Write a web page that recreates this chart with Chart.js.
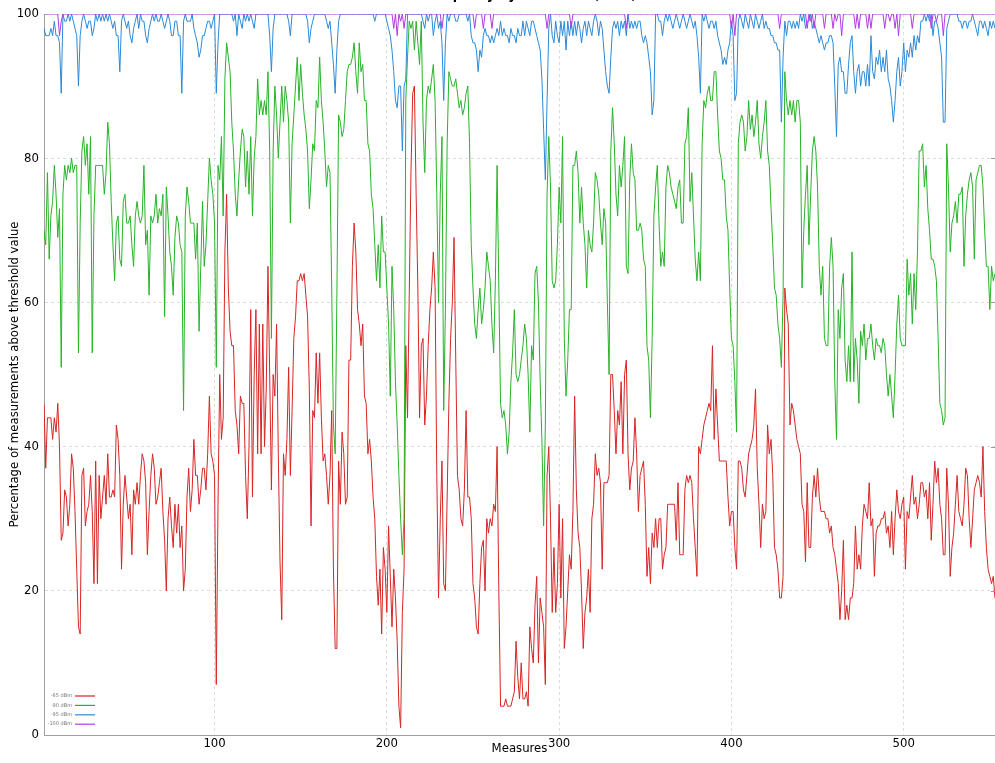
<!DOCTYPE html>
<html>
<head>
<meta charset="utf-8">
<script src="https://cdn.jsdelivr.net/npm/chart.js@4.4.1/dist/chart.umd.min.js"></script>
<style>
  html, body { margin: 0; padding: 0; background: #fff; }
  #wrap { position: relative; width: 995px; height: 763px; overflow: hidden; }
  #box { position: absolute; left: 0; top: -16px; width: 995px; height: 779px; }
</style>
</head>
<body>
<div id="wrap"><div id="box"><canvas id="chart"></canvas></div></div>
<script>
// percentage of measurements above each threshold, one value per measure
const red65 = [
  46,37,44,44,44,41,44,42,46,40, 27,28,34,33,29,32,39,37,31,23, 15,14,36,37,29,31,32,36,31,21,
  38,21,36,30,33,36,32,39,33,33, 34,33,43,41,36,23,32,36,33,30, 32,25,34,32,35,32,36,39,38,35,
  25,31,36,39,37,32,33,35,37,31, 27,20,30,33,29,26,32,28,32,26, 29,20,23,33,37,31,34,41,36,36,
  32,34,37,37,34,39,47,39,38,36, 7,32,50,41,44,67,75,62,56,54,
  54,45,43,39,47,46,46,36,30,40, 59,33,50,59,39,57,39,57,40,48, 65,50,34,50,47,57,39,24,16,39,
  36,41,51,36,45,55,58,63,63,64, 63,64,61,58,48,29,45,44,53,46, 53,44,38,39,36,32,36,45,23,12,
  12,38,32,42,39,32,33,52,52,65, 71,67,59,57,54,57,47,46,39,41, 38,33,30,22,18,23,14,26,23,17,
  29,22,15,23,19,13,4,1,17,23, 54,44,61,78,89,90,75,62,44,54,
  55,43,47,54,59,62,67,62,36,19, 30,38,21,20,33,46,55,60,69,52, 36,34,30,29,34,45,33,33,30,21,
  19,15,14,21,26,27,20,30,28,30, 29,32,31,40,20,4,4,4,5,4, 4,4,5,6,13,8,5,10,5,5,
  6,4,15,12,10,18,22,10,19,17, 15,7,36,40,30,17,26,17,21,32, 19,30,12,15,20,25,23,31,47,34,
  28,26,20,12,17,19,23,17,30,32, 39,36,37,35,23,35,35,35,36,50,
  50,45,39,45,43,49,39,50,52,39, 34,37,38,44,39,31,36,37,38,32, 22,26,21,28,26,30,26,30,30,23,
  25,26,32,32,32,32,32,27,35,25, 25,25,34,36,35,36,35,30,26,22, 40,39,41,43,44,45,46,45,54,41,
  48,43,38,38,38,38,38,33,29,31, 31,26,23,38,38,37,34,33,36,39, 40,41,43,48,37,32,26,32,30,31,
  43,39,41,36,26,25,23,19,19,22, 62,59,57,43,46,45,43,41,40,39,
  32,31,24,35,26,26,33,36,33,37, 33,31,31,31,30,30,28,29,26,25, 23,21,16,20,27,16,18,16,19,19,
  21,29,23,25,23,29,32,31,30,35, 29,30,22,28,29,29,30,30,31,28, 29,26,31,25,30,34,31,30,32,33,
  23,31,30,33,36,32,33,30,32,35, 35,33,34,30,35,27,32,38,35,37, 32,30,25,25,37,32,22,26,28,32,
  36,31,30,29,32,37,36,30,26,30, 34,35,36,35,33,40,31,26,23,22, 21,22,19
];

const green90 = [
  70,68,78,66,72,74,79,75,69,73, 51,75,79,77,79,78,80,78,79,79, 53,71,81,83,79,82,75,83,53,72,
  79,79,79,79,79,75,78,85,82,74, 68,63,71,72,66,65,74,75,71,71, 72,68,65,72,74,72,71,72,79,68,
  70,61,72,71,72,75,71,73,72,75, 58,76,72,67,65,61,69,72,71,68, 67,45,72,76,74,71,71,71,66,71,
  56,65,74,65,68,74,80,77,75,71, 51,79,77,83,72,91,96,94,92,85,
  81,75,72,77,81,84,83,76,81,75, 83,72,80,83,91,86,88,86,88,86, 92,81,55,81,90,86,80,85,90,85,
  90,88,85,71,82,86,90,94,88,93, 89,86,84,81,73,77,82,81,88,87, 94,88,85,81,76,79,78,62,43,39,
  61,86,85,83,84,88,92,93,93,94, 96,92,89,96,92,93,88,88,82,81, 75,73,68,63,68,62,72,67,67,62,
  57,47,65,59,49,43,36,30,25,30, 88,94,99,98,99,95,99,96,93,99,
  85,78,88,90,89,91,93,88,75,60, 75,83,45,59,82,92,91,90,90,91, 89,87,88,86,87,89,90,82,68,62,
  57,55,59,62,57,59,62,67,65,63, 57,53,63,79,62,46,44,45,43,39, 42,49,53,59,50,49,50,52,54,57,
  55,50,42,54,52,64,65,60,49,41, 29,43,75,83,76,63,62,63,68,76, 71,83,55,47,52,59,59,79,79,81,
  78,71,76,71,68,62,70,68,67,71, 78,77,75,71,68,73,71,60,50,81,
  87,82,75,72,79,76,79,83,65,64, 77,82,78,77,70,70,71,70,66,65, 54,52,44,55,72,76,79,71,65,67,
  65,76,79,78,76,75,74,73,76,77, 71,71,82,83,87,74,78,72,66,63, 67,63,82,88,87,89,90,88,88,92,
  92,86,81,80,77,77,72,70,62,55, 54,49,42,82,85,86,85,81,83,88, 84,86,83,85,88,82,80,83,85,88,
  81,79,73,68,62,61,57,55,51,61, 92,88,86,88,86,88,85,88,88,85,
  62,70,75,79,68,75,81,83,81,76, 65,61,65,55,54,54,65,69,65,49, 41,59,55,62,64,52,49,54,49,67,
  49,55,52,46,56,54,57,52,55,55, 57,54,52,55,54,54,53,55,54,50, 47,50,47,44,50,57,61,55,54,54,
  54,66,61,64,57,64,59,67,81,81, 82,76,79,73,70,66,66,65,63,55, 46,45,43,44,82,76,67,71,72,74,
  71,75,75,76,65,72,75,77,78,76, 66,77,78,79,79,76,70,65,65,59, 65,63,64
];

const blue95 = [
  98,97,97,97,98,97,99,97,97,96, 89,100,99,99,100,99,100,99,98,97, 90,97,99,100,99,98,99,99,97,98,
  100,99,100,99,100,99,100,99,100,99, 98,99,97,97,92,99,100,99,98,99, 97,96,98,99,100,98,100,99,99,97,
  96,98,99,100,99,100,99,99,100,99, 98,99,100,99,97,97,99,99,97,97, 89,99,100,99,99,99,100,98,97,96,
  94,95,97,97,98,99,99,98,99,100, 89,96,100,100,100,100,100,100,100,100,
  99,100,97,100,99,98,100,99,100,99, 100,99,98,100,100,100,100,100,100,100, 100,97,92,98,100,100,100,100,100,100,
  100,100,99,97,100,100,100,100,100,100, 100,100,100,99,96,98,99,100,100,100, 100,100,100,100,99,98,99,96,93,89,
  95,99,100,100,100,100,100,100,100,100, 100,100,100,100,100,100,100,100,100,100, 100,100,99,100,100,100,100,100,100,99,
  98,97,95,92,88,87,90,90,81,90, 91,100,100,100,100,100,100,100,100,100,
  99,98,100,99,100,100,97,99,100,98, 99,96,88,96,100,99,100,100,100,99, 99,100,100,100,100,100,99,100,97,96,
  96,95,92,95,94,97,98,97,97,96, 97,96,97,98,97,99,97,98,97,97, 96,98,97,97,96,98,97,97,99,97,
  99,98,97,99,99,98,97,96,95,91, 84,77,88,98,100,97,96,99,97,96, 99,97,99,95,99,97,99,97,99,97,
  99,98,96,98,99,97,99,98,97,99, 100,99,97,99,98,95,92,90,89,94,
  98,99,98,99,97,99,98,99,97,100, 98,99,98,99,98,99,99,97,96,97, 96,94,92,86,88,100,100,99,99,97,
  99,100,99,100,99,98,99,100,99,98, 99,100,99,98,99,100,99,98,99,97, 94,89,100,99,100,99,98,99,99,98,
  99,97,96,95,93,94,93,95,96,99, 97,88,89,99,100,99,98,100,99,98, 100,99,98,100,99,98,99,100,98,99,
  98,98,97,97,96,96,95,95,85,94, 99,97,99,99,98,99,98,99,98,100,
  99,100,98,99,99,100,98,99,98,97, 96,97,96,95,96,96,97,97,96,90, 83,93,94,92,92,89,89,93,96,97,
  92,89,92,93,90,92,92,90,93,90, 97,92,91,94,93,95,92,94,92,95, 91,90,88,85,88,92,94,90,92,96,
  92,95,94,96,94,97,95,97,96,99, 99,100,99,100,99,100,97,99,99,98, 96,94,85,85,98,99,100,100,100,100,
  100,99,99,98,99,99,98,99,99,100, 99,98,97,99,99,98,99,98,97,99, 98,99,98
];

const purple100 = [
  100,100,100,100,100,100,100,100,100,97,99,100,100,100,100,100,100,100,100,100,
  100,100,100,100,100,100,100,100,100,100,100,100,100,100,100,100,100,100,100,100,
  100,100,100,100,100,100,100,100,100,100,100,100,100,100,100,100,100,100,100,100,
  100,100,100,100,100,100,100,100,100,100,100,100,100,100,100,100,100,100,100,100,
  100,100,100,100,100,100,100,100,100,100,100,100,100,100,100,100,100,100,100,100,
  100,100,100,100,100,100,100,100,100,100,100,100,100,100,100,100,100,100,100,100,
  100,100,100,100,100,100,100,100,100,100,100,100,100,100,100,100,100,100,100,100,
  100,100,100,100,100,100,100,100,100,100,100,100,100,100,100,100,100,100,100,100,
  100,100,100,100,100,100,100,100,100,100,100,100,100,100,100,100,100,100,100,100,
  100,100,100,100,100,100,100,100,100,100,100,100,100,100,100,100,100,100,100,100,
  100,100,100,98,100,97,100,99,100,98,100,100,100,100,100,100,100,100,100,100,
  100,100,100,100,100,100,100,100,100,100,100,98,100,100,100,100,100,100,100,100,
  100,100,100,100,100,100,100,100,100,100,98,100,100,100,100,98,100,100,100,100,
  98,100,100,100,100,100,100,100,100,100,100,100,100,100,100,100,100,100,100,100,
  100,100,100,100,100,100,100,100,100,100,100,100,98,100,100,100,100,100,100,100,
  100,100,100,100,100,100,98,100,100,100,100,100,100,100,100,100,100,100,100,100,
  100,100,100,100,100,100,100,100,100,100,100,100,100,100,100,100,100,100,98,100,
  100,100,100,100,100,100,100,100,100,100,100,100,100,100,100,100,100,100,100,100,
  100,100,100,100,100,100,100,100,100,100,100,100,100,100,100,100,100,100,100,100,
  100,100,100,100,100,100,100,100,100,100,100,100,100,100,100,100,100,100,100,98,
  100,97,100,100,100,100,100,100,100,100,100,100,100,100,100,100,100,100,100,100,
  100,100,100,100,100,100,100,98,100,100,100,100,100,100,100,100,100,100,100,100,
  100,100,100,98,100,99,100,98,100,100,100,100,100,98,100,100,100,100,98,100,
  99,100,100,97,100,100,100,100,100,100,100,98,100,98,100,100,100,100,98,100,
  98,100,100,100,100,100,100,100,98,100,100,99,100,100,98,100,97,100,100,100,
  100,100,100,100,98,100,100,100,100,100,100,100,100,100,100,98,100,100,99,100,
  100,100,97,100,100,100,100,100,100,100,100,100,100,100,100,100,100,100,100,100,
  100,100,100,100,100,100,100,100,100,100,100,100,100
];

const seriesLabels = ['-65 dBm', '-90 dBm', '-95 dBm', '-100 dBm'];
const seriesColors = ['#d92424', '#27b327', '#2b89d8', '#b23ce0'];
const xTicks = [100, 200, 300, 400, 500];
const yTicks = [0, 20, 40, 60, 80, 100];
const measures = red65.map((v, i) => i + 1);

const fontFamily = '"DejaVu Sans Condensed", "DejaVu Sans", sans-serif';

// small legend drawn in the lower left corner of the plot
const cornerLegend = {
  id: 'cornerLegend',
  afterDatasetsDraw(chart) {
    const { ctx, chartArea } = chart;
    ctx.save();
    ctx.font = '5px "DejaVu Sans"';
    ctx.textAlign = 'right';
    ctx.textBaseline = 'middle';
    chart.data.datasets.forEach((ds, i) => {
      const y = chartArea.bottom - 39 + i * 9.4;
      ctx.fillStyle = '#777';
      ctx.fillText(ds.label, chartArea.left + 28, y);
      ctx.strokeStyle = ds.borderColor;
      ctx.lineWidth = 1.2;
      ctx.beginPath();
      ctx.moveTo(chartArea.left + 31, y);
      ctx.lineTo(chartArea.left + 51, y);
      ctx.stroke();
    });
    // short marks on the right edge at each y tick
    const yScale = chart.scales.y;
    ctx.strokeStyle = '#999';
    ctx.lineWidth = 1;
    yTicks.slice(1, -1).forEach(v => {
      const y = Math.round(yScale.getPixelForValue(v)) + 0.5;
      ctx.beginPath();
      ctx.moveTo(chartArea.right - 4, y);
      ctx.lineTo(chartArea.right, y);
      ctx.stroke();
    });
    ctx.restore();
  }
};

const seriesData = [red65, green90, blue95, purple100];
const drawOrder = [3, 2, 1, 0];

new Chart(document.getElementById('chart'), {
  type: 'line',
  data: {
    labels: measures,
    datasets: seriesData.map((values, i) => ({
      label: seriesLabels[i],
      data: values,
      borderColor: seriesColors[i],
      backgroundColor: seriesColors[i],
      borderWidth: 1,
      pointRadius: 0,
      tension: 0,
      fill: false,
      order: drawOrder[i]
    }))
  },
  options: {
    responsive: true,
    maintainAspectRatio: false,
    animation: false,
    events: [],
    layout: { padding: 0 },
    plugins: {
      legend: { display: false },
      tooltip: { enabled: false },
      title: {
        display: true,
        text: 'Channel occupancy by threshold (dBm)',
        color: '#000',
        font: { family: fontFamily, size: 14, weight: 'bold' },
        padding: { top: 2.6, bottom: 10.6 }
      }
    },
    scales: {
      x: {
        type: 'linear',
        min: 1,
        max: 553,
        afterBuildTicks: scale => { scale.ticks = xTicks.map(v => ({ value: v })); },
        afterFit: scale => { scale.height = 28; },
        grid: { color: '#dcdcdc', drawTicks: false },
        border: { display: true, color: '#a0a0a0', dash: [3, 3] },
        ticks: { color: '#000', padding: 1, font: { family: fontFamily, size: 13 }, maxRotation: 0 },
        title: {
          display: true,
          text: 'Measures',
          color: '#000',
          font: { family: fontFamily, size: 13 },
          padding: { top: 0, bottom: 6.2 }
        }
      },
      y: {
        min: 0,
        max: 100,
        afterBuildTicks: scale => { scale.ticks = yTicks.map(v => ({ value: v })); },
        afterFit: scale => { scale.width = 44; },
        grid: { color: '#dcdcdc', drawTicks: false },
        border: { display: true, color: '#a0a0a0', dash: [3, 3] },
        ticks: { color: '#000', padding: 5, font: { family: fontFamily, size: 13 } },
        title: {
          display: true,
          text: 'Percentage of measurements above threshold value',
          color: '#000',
          font: { family: fontFamily, size: 13 },
          padding: { top: 6.5, bottom: 0 }
        }
      }
    }
  },
  plugins: [cornerLegend]
});
</script>
</body>
</html>
